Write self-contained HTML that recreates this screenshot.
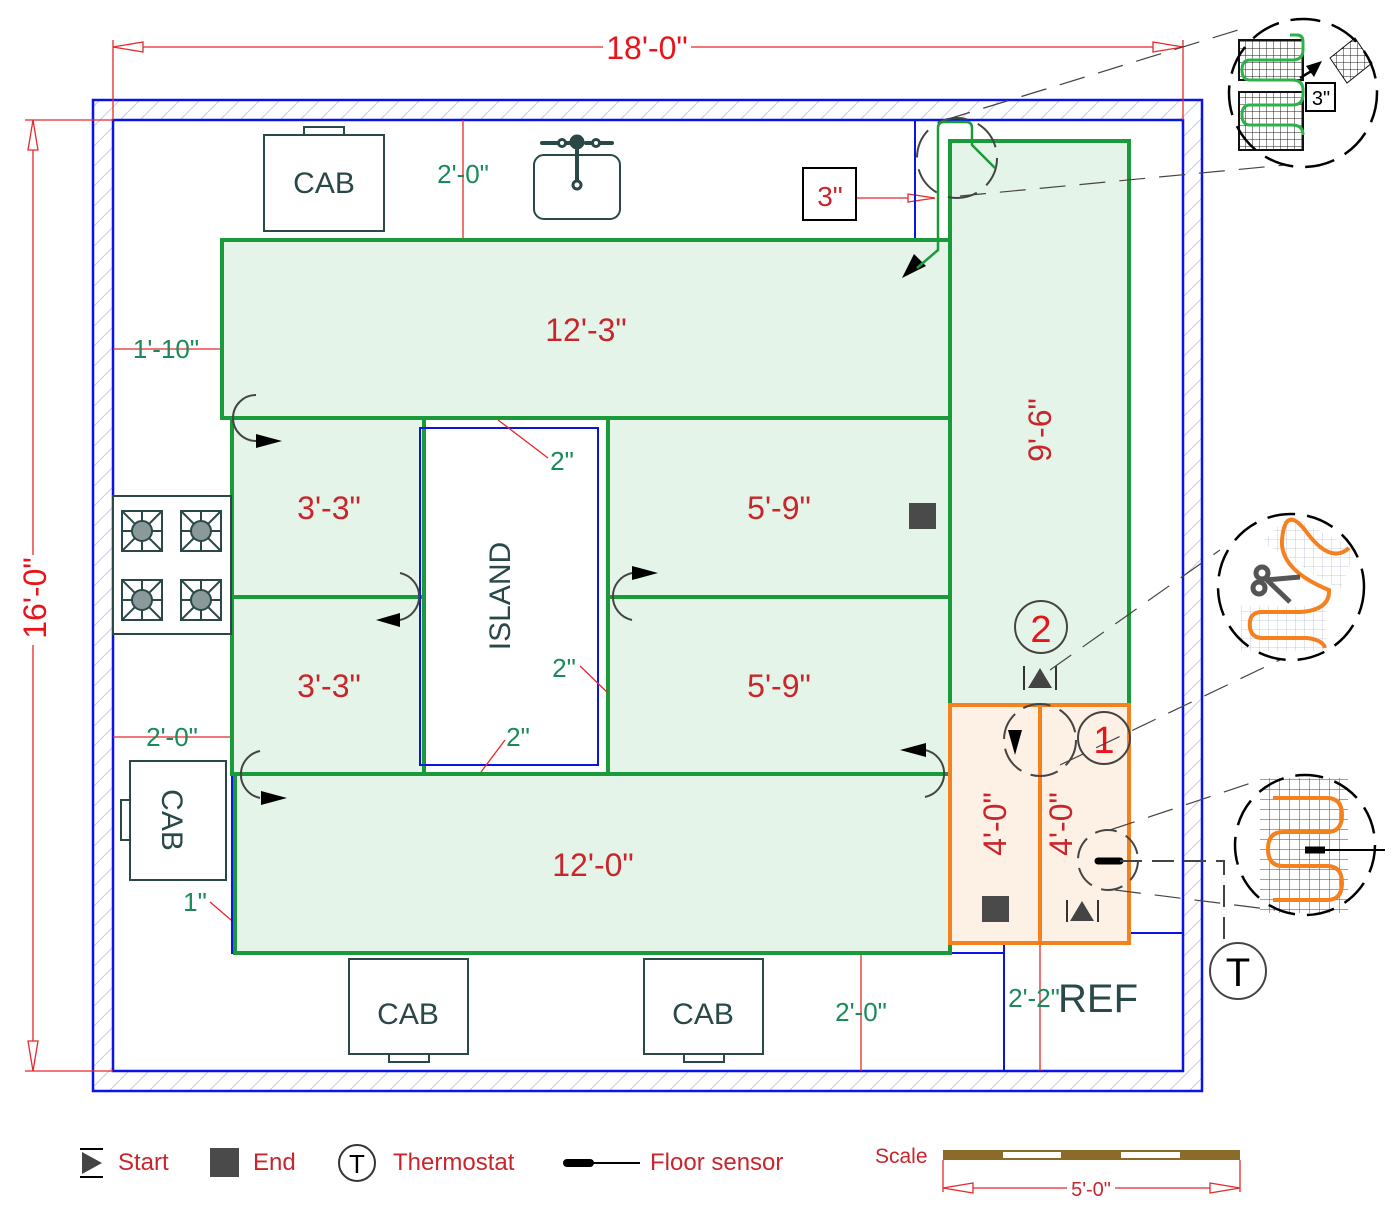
<!DOCTYPE html>
<html><head><meta charset="utf-8"><style>html,body{margin:0;padding:0;background:#fff}svg{display:block}text{font-family:"Liberation Sans",sans-serif}</style></head><body>
<svg width="1400" height="1217" viewBox="0 0 1400 1217" xmlns="http://www.w3.org/2000/svg">
<defs>
<pattern id="hatch" width="20" height="20" patternUnits="userSpaceOnUse"><path d="M0 20 L20 0" stroke="#c9c9f2" stroke-width="1"/></pattern>
<pattern id="grid" width="7" height="7" patternUnits="userSpaceOnUse"><path d="M7 0V7H0" fill="none" stroke="#222" stroke-width="1"/></pattern>
<pattern id="grid2" width="10" height="10" patternUnits="userSpaceOnUse"><path d="M10 0V10H0" fill="none" stroke="#666" stroke-width="1.2"/></pattern>
<pattern id="grid3" width="9" height="9" patternUnits="userSpaceOnUse"><path d="M9 0V9H0" fill="none" stroke="#b8bcd8" stroke-width="0.8"/></pattern>
</defs>
<path d="M93 100H1202V1091H93Z M113 120V1071H1183V120Z" fill="url(#hatch)" fill-rule="evenodd"/>
<rect x="93" y="100" width="1109" height="991" fill="none" stroke="#0a14e6" stroke-width="2.5"/>
<rect x="113" y="120" width="1070" height="951" fill="none" stroke="#0a14e6" stroke-width="2.5"/>
<g stroke="#e8282a" stroke-width="1.3" fill="none">
<path d="M113 40V120 M1183 40V120 M113 47H1183"/>
<path d="M113 47L143 42V52Z M1183 47L1153 42V52Z" fill="#fff"/>
<path d="M25 120H113 M25 1071H113 M33 120V1071"/>
<path d="M33 120L28 150H38Z M33 1071L28 1041H38Z" fill="#fff"/>
<path d="M463 120V240 M113 349H222 M113 737H232 M861 953V1071 M1040 943V1071 M856 198H935"/>
<path d="M935 198L908 194V202Z" fill="#fff"/>
<path d="M237 925L210 902"/>
</g>
<rect x="603" y="32" width="88" height="30" fill="#fff"/>
<text x="647" y="59" font-size="32" fill="#e8141a" text-anchor="middle">18'-0"</text>
<rect x="18" y="555" width="30" height="90" fill="#fff"/>
<text transform="translate(46,598) rotate(-90)" font-size="32" fill="#e8141a" text-anchor="middle">16'-0"</text>
<g stroke="#0a14e6" stroke-width="2" fill="none">
<path d="M915 120V240 M232 240V953 H1004 M1004 1071V933H1183"/>
</g>
<g fill="#e5f4e8" stroke="#1a9a3a" stroke-width="4">
<rect x="222" y="240" width="728" height="178"/>
<rect x="950" y="141" width="179" height="564"/>
<rect x="232" y="418" width="192" height="179"/>
<rect x="232" y="597" width="192" height="177"/>
<rect x="608" y="418" width="342" height="179"/>
<rect x="608" y="597" width="342" height="177"/>
<rect x="235" y="774" width="715" height="179"/>
</g>
<rect x="424" y="418" width="184" height="356" fill="#fff" stroke="#1a9a3a" stroke-width="4"/>
<rect x="420" y="428" width="178" height="337" fill="none" stroke="#0a14e6" stroke-width="2"/>
<g stroke="#e8282a" stroke-width="1.3" fill="none"><path d="M498 420L548 458 M608 693L580 666 M481 772L505 740"/></g>
<g fill="#fdf0e4" stroke="#f5801e" stroke-width="4">
<rect x="950" y="705" width="90" height="238"/><rect x="1040" y="705" width="89" height="238"/>
</g>
<g fill="#c8262c" font-size="32" text-anchor="middle">
<text x="586" y="341">12'-3"</text>
<text x="329" y="519">3'-3"</text><text x="329" y="697">3'-3"</text>
<text x="779" y="519">5'-9"</text><text x="779" y="697">5'-9"</text>
<text x="593" y="876">12'-0"</text>
<text transform="translate(1051,430) rotate(-90)">9'-6"</text>
<text transform="translate(1006,824) rotate(-90)">4'-0"</text>
<text transform="translate(1072,824) rotate(-90)">4'-0"</text>
</g>
<text transform="translate(510,596) rotate(-90)" font-size="30" fill="#2b4848" text-anchor="middle">ISLAND</text>
<g fill="#1a8a5a" font-size="26" text-anchor="middle">
<text x="463" y="183">2'-0"</text>
<text x="166" y="358">1'-10"</text>
<text x="172" y="746">2'-0"</text>
<text x="195" y="911">1"</text>
<text x="562" y="470">2"</text><text x="564" y="677">2"</text><text x="518" y="746">2"</text>
<text x="861" y="1021">2'-0"</text>
<text x="1034" y="1007">2'-2"</text>
</g>
<g fill="#fff" stroke="#2b4848" stroke-width="2">
<rect x="304" y="127" width="40" height="9"/><rect x="264" y="135" width="120" height="96"/>
<rect x="534" y="155" width="86" height="64" rx="10"/>
<rect x="113" y="496" width="118" height="138"/>
<rect x="121" y="800" width="9" height="40"/><rect x="130" y="761" width="96" height="119"/>
<rect x="389" y="1054" width="40" height="8"/><rect x="349" y="959" width="119" height="95"/>
<rect x="684" y="1054" width="40" height="8"/><rect x="644" y="959" width="119" height="95"/>
<rect x="803" y="168" width="53" height="52" stroke="#000"/>
</g>
<g stroke="#2b4848" stroke-width="4" fill="none" stroke-linecap="round"><path d="M542 143H570 M586 143H612 M577 145V185"/></g>
<g fill="#fff" stroke="#2b4848" stroke-width="3"><circle cx="577" cy="142" r="6" fill="#2b4848"/><circle cx="562" cy="143" r="3.5"/><circle cx="596" cy="143" r="3.5"/><circle cx="577" cy="185" r="4"/></g>
<g stroke="#2b4848" stroke-width="2" fill="#fff">
<g id="burner"><rect x="122" y="511" width="40" height="40"/><path d="M122 511L162 551M162 511L122 551M142 511V551M122 531H162"/><circle cx="142" cy="531" r="10" fill="#8a9a9a"/></g>
<use href="#burner" x="59"/><use href="#burner" y="69"/><use href="#burner" x="59" y="69"/>
</g>
<g fill="#2b4848" font-size="30" text-anchor="middle">
<text x="324" y="193">CAB</text><text x="408" y="1024">CAB</text><text x="703" y="1024">CAB</text>
<text transform="translate(162,820) rotate(90)">CAB</text>
<text x="1098" y="1012" font-size="40">REF</text>
</g>
<text x="830" y="206" font-size="28" fill="#c8262c" text-anchor="middle">3"</text>
<g stroke="#444" stroke-width="2" fill="none">
<path d="M256 395A23 23 0 0 0 256 441"/><path d="M400 573A24 24 0 0 1 400 620"/>
<path d="M632 573A24 24 0 0 0 632 620"/><path d="M260 751A24 24 0 0 0 260 798"/>
<path d="M925 750A24 24 0 0 1 925 797"/>
<circle cx="1040" cy="740" r="36" stroke-dasharray="28 10"/>
<circle cx="957" cy="158" r="40" stroke-dasharray="30 12"/>
<circle cx="1108" cy="860" r="30" stroke-dasharray="22 10"/>
</g>
<g fill="#000">
<path d="M282 441L256 434V448Z"/><path d="M376 620L400 613V627Z"/><path d="M658 573L632 566V580Z"/>
<path d="M287 798L261 791V805Z"/><path d="M900 750L926 743V757Z"/><path d="M1015 755L1008 730H1022Z"/>
<path d="M902 278L914 254L926 266Z"/>
</g>
<path d="M938 240V128Q938 122 944 122H966Q972 122 972 128V145L995 168M938 240V250L917 268" stroke="#1a9a3a" stroke-width="2.5" fill="none"/>
<g fill="#4a4a4a"><rect x="909" y="503" width="27" height="26"/><rect x="982" y="896" width="27" height="26"/></g>
<g stroke="#333" stroke-width="2"><path d="M1024 666V690M1056 666V690M1067 900V922M1098 900V922"/></g>
<g fill="#444"><path d="M1040 668L1028 688H1052Z"/><path d="M1082 901L1070 921H1094Z"/></g>
<g fill="none" stroke="#444" stroke-width="2"><circle cx="1041" cy="627" r="26"/><circle cx="1104" cy="738" r="26"/><circle cx="1238" cy="971" r="28"/></g>
<text x="1041" y="642" font-size="38" fill="#e8141a" text-anchor="middle">2</text>
<text x="1104" y="753" font-size="38" fill="#e8141a" text-anchor="middle">1</text>
<text x="1238" y="986" font-size="40" fill="#000" text-anchor="middle">T</text>
<path d="M1098 861H1120" stroke="#000" stroke-width="7" stroke-linecap="round"/>
<path d="M1120 861H1224V943" stroke="#444" stroke-width="2" fill="none" stroke-dasharray="22 10"/>
<g stroke="#444" stroke-width="1.2" fill="none" stroke-dasharray="26 14">
<path d="M945 120L1238 30 M960 196L1285 165"/>
<path d="M1050 670L1220 550 M1060 765L1290 655"/>
<path d="M1110 830L1260 780 M1115 890L1275 910"/>
</g>
<g>
<circle cx="1303" cy="93" r="74" fill="#fff"/>
<path d="M1239 40H1303V80H1239Z M1239 92H1303V150H1239Z" fill="url(#grid)" stroke="#111" stroke-width="2"/>
<path d="M1330 58L1355 38L1372 63L1347 83Z" fill="url(#grid)" stroke="#111"/>
<path d="M1290 35H1297Q1303 35 1303 42V50Q1303 60 1292 60H1250Q1242 60 1242 70Q1242 80 1250 80H1292Q1303 80 1303 90V95Q1303 105 1292 105H1250Q1242 105 1242 115Q1242 125 1250 125H1292Q1303 125 1303 135" fill="none" stroke="#2bb34a" stroke-width="3"/>
<rect x="1306" y="83" width="29" height="28" fill="#fff" stroke="#000" stroke-width="2"/>
<text x="1321" y="105" font-size="20" text-anchor="middle">3"</text>
<path d="M1300 78L1318 67" stroke="#000" stroke-width="2.5"/><path d="M1322 61L1306 66L1314 77Z" fill="#000"/>
<circle cx="1303" cy="93" r="74" fill="none" stroke="#000" stroke-width="2.5" stroke-dasharray="30 12"/>
</g>
<g>
<circle cx="1291" cy="587" r="73" fill="#fff"/>
<path d="M1262 542L1290 515L1356 550L1340 590Z" fill="url(#grid3)"/>
<rect x="1241" y="606" width="85" height="45" fill="url(#grid3)"/>
<path d="M1349 548Q1330 565 1305 530Q1285 505 1282 540Q1280 570 1329 590Q1330 610 1300 612H1262Q1248 612 1250 628Q1252 639 1265 638H1307Q1323 640 1325 648" fill="none" stroke="#f5801e" stroke-width="4"/>
<g fill="none" stroke="#555" stroke-width="5"><circle cx="1262" cy="573" r="6"/><circle cx="1259" cy="588" r="6"/><path d="M1266 580L1300 577M1266 579L1290 602"/></g>
<circle cx="1291" cy="587" r="73" fill="none" stroke="#000" stroke-width="2.5" stroke-dasharray="28 12"/>
</g>
<g>
<circle cx="1305" cy="845" r="70" fill="#fff"/>
<rect x="1260" y="778" width="88" height="135" fill="url(#grid2)"/>
<path d="M1273 798H1327Q1342 798 1342 815Q1342 832 1327 832H1283Q1268 832 1268 849Q1268 866 1283 866H1327Q1342 866 1342 883Q1342 900 1327 900H1273" fill="none" stroke="#f5801e" stroke-width="4"/>
<path d="M1305 850H1325" stroke="#000" stroke-width="7"/><path d="M1325 850H1385" stroke="#000" stroke-width="2"/>
<circle cx="1305" cy="845" r="70" fill="none" stroke="#000" stroke-width="2.5" stroke-dasharray="28 12"/>
</g>
<g stroke="#000" stroke-width="2"><path d="M80 1149H103M80 1177H103"/></g>
<path d="M82 1152L102 1163L82 1174Z" fill="#444"/>
<rect x="210" y="1148" width="29" height="29" fill="#4a4a4a"/>
<circle cx="357" cy="1163" r="18" fill="none" stroke="#333" stroke-width="2"/>
<text x="357" y="1173" font-size="26" text-anchor="middle">T</text>
<path d="M567 1163H590" stroke="#000" stroke-width="8" stroke-linecap="round"/><path d="M590 1163H640" stroke="#000" stroke-width="2"/>
<g fill="#c8262c" font-size="24"><text x="118" y="1170">Start</text><text x="253" y="1170">End</text><text x="393" y="1170">Thermostat</text><text x="650" y="1170">Floor sensor</text><text x="875" y="1163" font-size="21">Scale</text></g>
<rect x="943" y="1150" width="297" height="10" fill="#8b6a2a"/>
<rect x="1003" y="1152" width="58" height="6" fill="#fff"/><rect x="1121" y="1152" width="59" height="6" fill="#fff"/>
<g stroke="#e8282a" stroke-width="1.3" fill="#fff"><path d="M943 1160V1192M1240 1160V1192M943 1188H1240" fill="none"/><path d="M943 1188L973 1183V1193Z M1240 1188L1210 1183V1193Z"/></g>
<rect x="1067" y="1177" width="48" height="22" fill="#fff"/>
<text x="1091" y="1196" font-size="20" fill="#c8262c" text-anchor="middle">5'-0"</text>
</svg>
</body></html>
